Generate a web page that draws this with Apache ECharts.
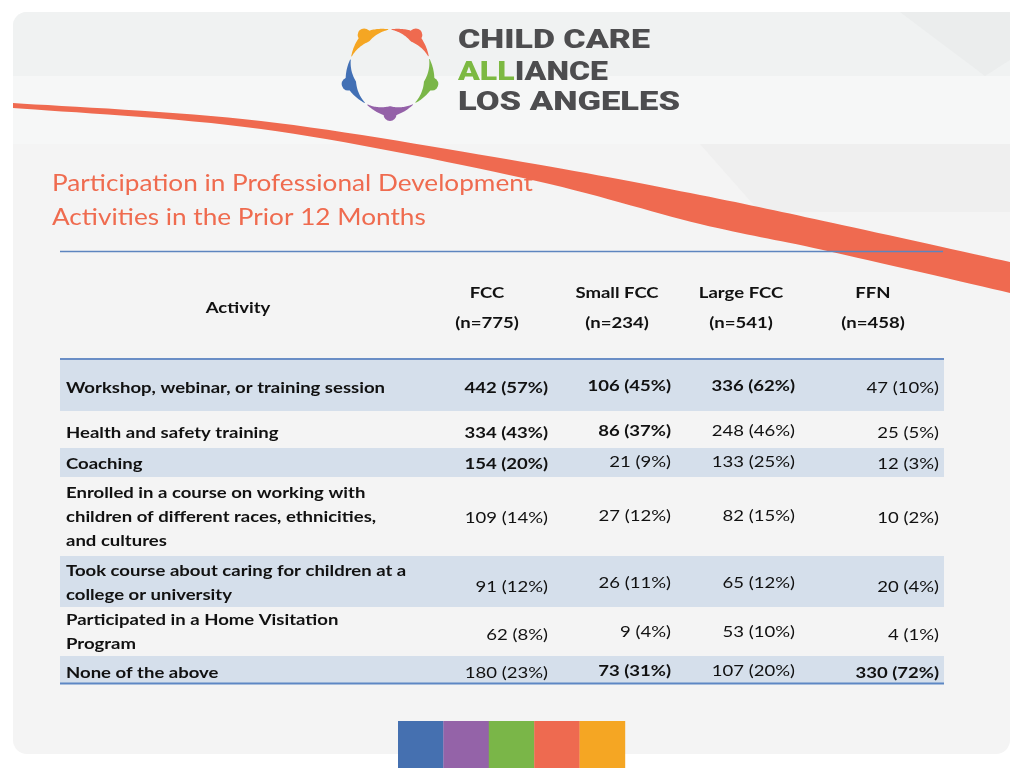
<!DOCTYPE html>
<html>
<head>
<meta charset="utf-8">
<script src="https://cdn.jsdelivr.net/npm/echarts@6/dist/echarts.min.js"></script>
<style>
html,body{margin:0;padding:0;background:#ffffff;}
#chart{width:1024px;height:768px;}
</style>
</head>
<body>
<div id="chart"></div>
<script>
// ---------------- DATA ----------------
const titleLines = ["Participation in Professional Development", "Activities in the Prior 12 Months"];
const logoLines = ["CHILD CARE", "ALLIANCE", "LOS ANGELES"];
const activityHeader = "Activity";
const groups = ["FCC", "Small FCC", "Large FCC", "FFN"];
const groupN = [775, 234, 541, 458];
const activities = [
  ["Workshop, webinar, or training session"],
  ["Health and safety training"],
  ["Coaching"],
  ["Enrolled in a course on working with", "children of different races, ethnicities,", "and cultures"],
  ["Took course about caring for children at a", "college or university"],
  ["Participated in a Home Visitation", "Program"],
  ["None of the above"]
];
const fccCounts   = [442, 334, 154, 109, 91, 62, 180];
const fccPct      = [57, 43, 20, 14, 12, 8, 23];
const smallCounts = [106, 86, 21, 27, 26, 9, 73];
const smallPct    = [45, 37, 9, 12, 11, 4, 31];
const largeCounts = [336, 248, 133, 82, 65, 53, 107];
const largePct    = [62, 46, 25, 15, 12, 10, 20];
const ffnCounts   = [47, 25, 12, 10, 20, 4, 330];
const ffnPct      = [10, 5, 3, 2, 4, 1, 72];
const fccBold   = [1, 1, 1, 0, 0, 0, 0];
const smallBold = [1, 1, 0, 0, 0, 0, 1];
const largeBold = [1, 0, 0, 0, 0, 0, 0];
const ffnBold   = [0, 0, 0, 0, 0, 0, 1];

// ---------------- LAYOUT / STYLE ----------------
const FONT = 'Lato';
const rowTop    = [359, 411, 448, 477, 556, 607, 656];
const rowBottom = [411, 448, 477, 556, 607, 656, 683];
const rowShaded = [true, false, true, false, true, false, true];
const labelCenter = [388, 433, 464, 517, 583, 632, 672.5];
const valueY      = [388, 433, 464, 518, 586.5, 635, 672.5];
const valueYAlt   = [385.5, 430.5, 461.5, 516, 583, 632, 670.5];
const colRight = [548, 671, 795, 939];
const colHeadCenter = [487, 617, 741, 873];

const ctx = document.createElement('canvas').getContext('2d');
function measure(txt, font) { ctx.font = font; return ctx.measureText(txt).width; }

const bodySize = 16;
const bodyBold = 'bold ' + bodySize + 'px ' + FONT;
const bodyReg = bodySize + 'px ' + FONT;
const bodyScale = 319 / measure(activities[0][0], bodyBold);
const titleFont = '23px ' + FONT;
const titleScale = 481 / measure(titleLines[0], titleFont);

const g = [];
function text(x, y, str, font, fill, align, sx, extra) {
  g.push(Object.assign({
    type: 'text', x: x, y: y, scaleX: sx || 1, silent: true,
    style: { x: 0, y: 0, text: str, font: font, fill: fill, textAlign: align || 'left', textVerticalAlign: 'middle' }
  }, extra || {}));
}

// Background
g.push({ type: 'rect', shape: { x: 0, y: 0, width: 1024, height: 768 }, style: { fill: '#ffffff' }, silent: true });
g.push({ type: 'rect', shape: { x: 13, y: 12, width: 997, height: 742, r: 14 }, style: { fill: '#f4f4f4' }, silent: true });
g.push({ type: 'rect', shape: { x: 13, y: 12, width: 997, height: 64, r: [14, 14, 0, 0] }, style: { fill: '#f0f2f2' }, silent: true });
g.push({ type: 'rect', shape: { x: 13, y: 76, width: 997, height: 68 }, style: { fill: '#f6f7f7' }, silent: true });
g.push({ type: 'polygon', shape: { points: [[900, 12], [1010, 12], [1010, 60], [985, 76]] }, style: { fill: '#ebeded' }, silent: true });
g.push({ type: 'polygon', shape: { points: [[700, 144], [1010, 144], [1010, 212], [760, 212]] }, style: { fill: '#efefef' }, silent: true });

// Red swoosh (Catmull-Rom through anchors)
function catmull(p, steps) {
  const out = [];
  for (let i = 1; i < p.length - 2; i++) {
    const p0 = p[i - 1], p1 = p[i], p2 = p[i + 1], p3 = p[i + 2];
    for (let s = 0; s < steps; s++) {
      const t = s / steps, t2 = t * t, t3 = t2 * t;
      out.push([0, 1].map(k => 0.5 * ((2 * p1[k]) + (-p0[k] + p2[k]) * t + (2 * p0[k] - 5 * p1[k] + 4 * p2[k] - p3[k]) * t2 + (-p0[k] + 3 * p1[k] - 3 * p2[k] + p3[k]) * t3)));
    }
  }
  out.push(p[p.length - 2]);
  return out;
}
const upper = catmull([[-50, 100], [13, 103], [261, 121], [523, 162], [700, 195], [833, 223], [1010, 262], [1060, 273]], 16);
const lower = catmull([[-50, 104], [13, 108], [261, 129], [523, 178], [700, 224], [823, 250], [1010, 293], [1060, 306]], 16);
g.push({ type: 'polygon', shape: { points: upper.concat(lower.reverse()) }, style: { fill: '#ef6a50' }, silent: true });

// Logo ring
const logoColors = ['#f5a623', '#ef6a4f', '#7ab648', '#9461a8', '#4270b5'];
const lcx = 390, lcy = 70.5, R = 41;
function pt(r, deg) { const a = deg * Math.PI / 180; return [lcx + r * Math.sin(a), lcy - r * Math.cos(a)]; }
logoColors.forEach((c, k) => {
  const a = -36 + 72 * k;
  const outer = [], inner = [];
  for (let t = -34; t <= 34; t += 1.5) {
    const f = 1 - Math.abs(t) / 34;
    const w = 10 * Math.pow(f, 1.1) + 0.6;
    outer.push(pt(R + w * 0.5, a + t));
    inner.unshift(pt(R - w * 0.5, a + t));
  }
  g.push({ type: 'polygon', shape: { points: outer.concat(inner) }, style: { fill: c }, silent: true });
  const h = pt(R + 3, a);
  g.push({ type: 'circle', shape: { cx: h[0], cy: h[1], r: 6.5 }, style: { fill: c }, silent: true });
});

// Logo text
const logoFont = '900 25px Roboto';
const logoTargets = [192, 150, 222];
const logoY = [42, 73.5, 104];
logoLines.forEach((s, i) => {
  const sc = logoTargets[i] / measure(s, logoFont);
  if (i === 1) {
    g.push({ type: 'text', x: 458, y: logoY[i], scaleX: sc, silent: true,
      style: { x: 0, y: 0, text: '{g|ALL}{d|IANCE}', font: logoFont, textVerticalAlign: 'middle',
        rich: { g: { fill: '#7cb942', font: logoFont }, d: { fill: '#4d4d4f', font: logoFont } } } });
  } else {
    text(458, logoY[i], s, logoFont, '#4d4d4f', 'left', sc);
  }
});

// Title
titleLines.forEach((s, i) => text(52, 184 + i * 33.5, s, titleFont, '#ef6b4f', 'left', titleScale));
g.push({ type: 'line', shape: { x1: 60, y1: 251.5, x2: 943, y2: 251.5 }, style: { stroke: '#5d85bf', lineWidth: 1.5 }, silent: true });

// Table header
text(238, 308, activityHeader, bodyBold, '#111', 'center', bodyScale);
groups.forEach((name, j) => {
  text(colHeadCenter[j], 293, name, bodyBold, '#111', 'center', bodyScale);
  text(colHeadCenter[j], 323, '(n=' + groupN[j] + ')', bodyBold, '#111', 'center', bodyScale);
});

// Table body
activities.forEach((lines, i) => {
  if (rowShaded[i]) {
    g.push({ type: 'rect', shape: { x: 60, y: rowTop[i], width: 884, height: rowBottom[i] - rowTop[i] }, style: { fill: '#d5dfeb' }, silent: true });
  }
});
g.push({ type: 'line', shape: { x1: 60, y1: 359, x2: 944, y2: 359 }, style: { stroke: '#6a8ec6', lineWidth: 2 }, silent: true });
g.push({ type: 'line', shape: { x1: 60, y1: 683.5, x2: 944, y2: 683.5 }, style: { stroke: '#5d87c4', lineWidth: 2 }, silent: true });

const cols = [
  [fccCounts, fccPct, fccBold, valueY],
  [smallCounts, smallPct, smallBold, valueYAlt],
  [largeCounts, largePct, largeBold, valueYAlt],
  [ffnCounts, ffnPct, ffnBold, valueY]
];
activities.forEach((lines, i) => {
  lines.forEach((s, l) => {
    text(66, labelCenter[i] + (l - (lines.length - 1) / 2) * 24, s, bodyBold, '#111', 'left', bodyScale);
  });
  cols.forEach((c, j) => {
    const str = c[0][i] + ' (' + c[1][i] + '%)';
    text(colRight[j], c[3][i], str, c[2][i] ? bodyBold : bodyReg, '#111', 'right', bodyScale);
  });
});

// Colour bars at bottom
const barColors = ['#4570b0', '#9463a8', '#7ab648', '#ee6a50', '#f5a623'];
barColors.forEach((c, k) => {
  g.push({ type: 'rect', shape: { x: 398 + k * 45.4, y: 721, width: 45.6, height: 47 }, style: { fill: c }, silent: true });
});

const chart = echarts.init(document.getElementById('chart'), null, { renderer: 'canvas' });
chart.setOption({ animation: false, graphic: { elements: g } });
</script>
</body>
</html>
